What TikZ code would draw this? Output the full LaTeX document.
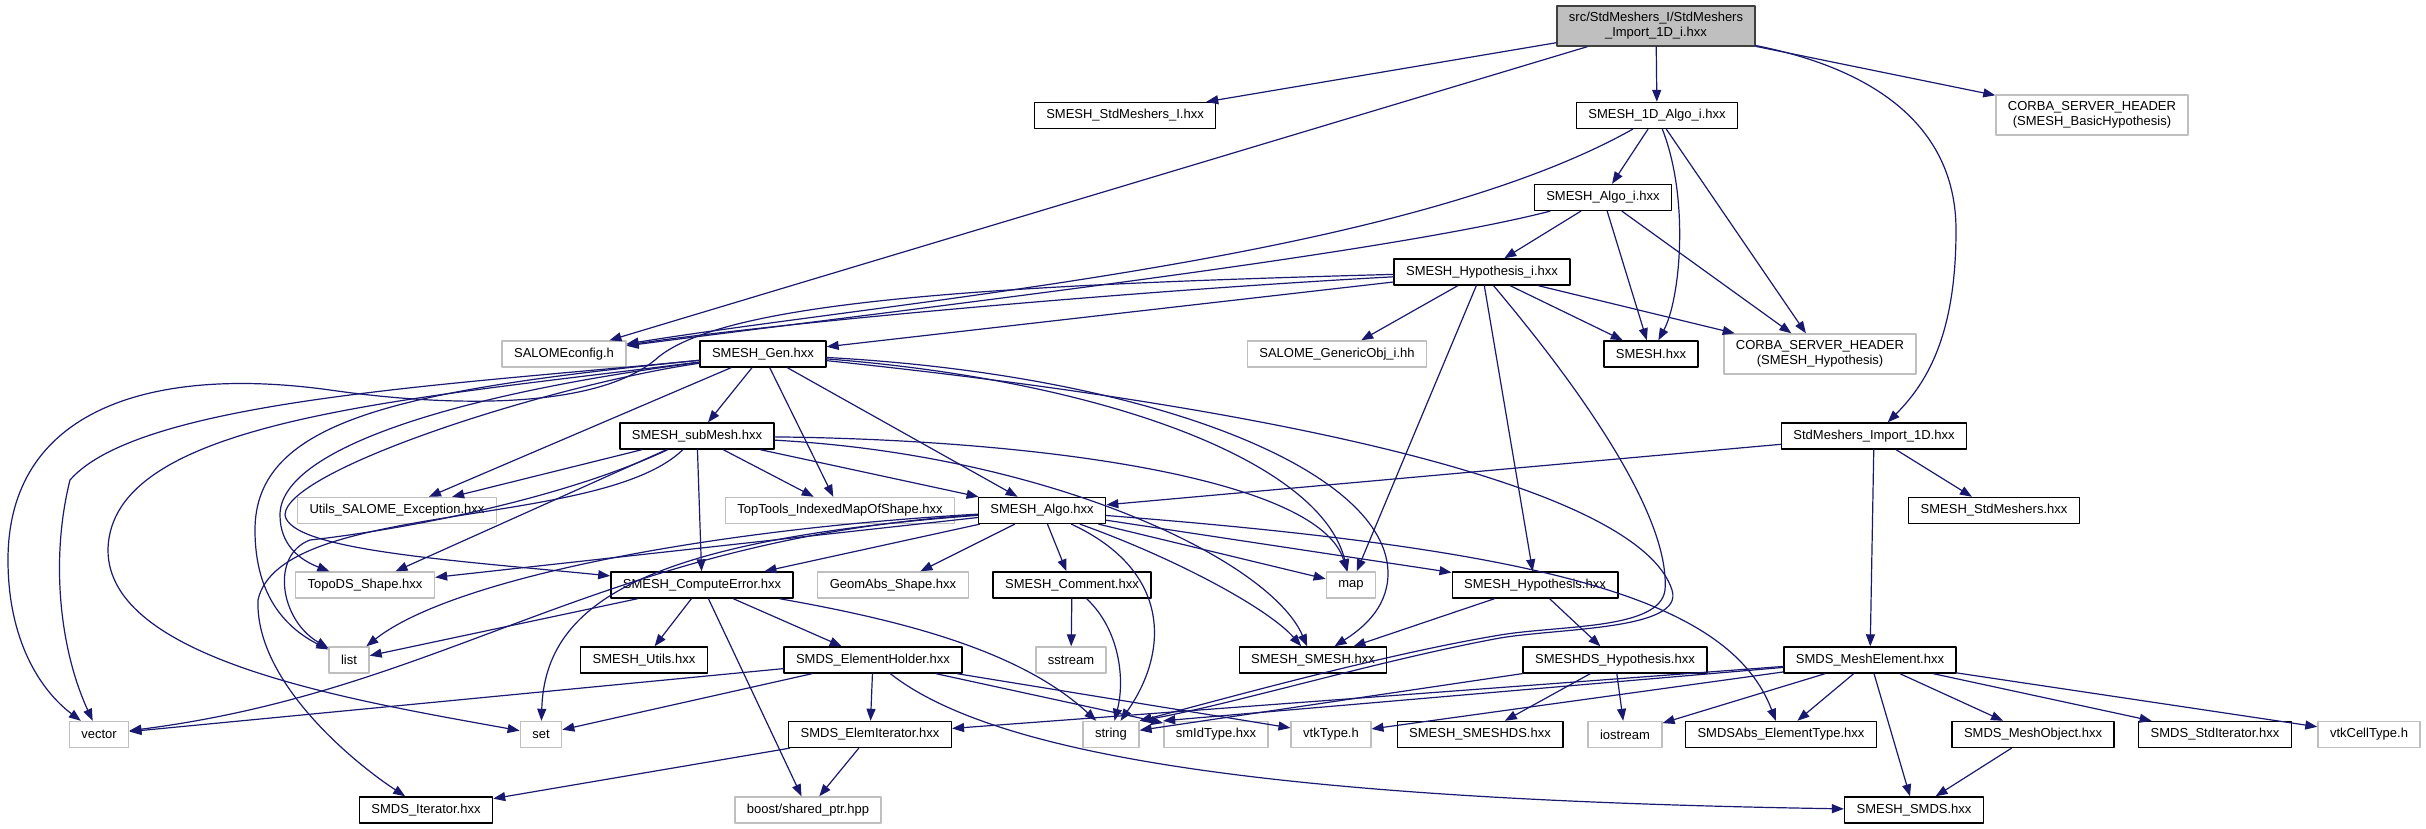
\documentclass[tikz,border=0pt]{standalone}
\usepackage{fontspec}
\setmainfont{Liberation Sans}
\usepackage{xcolor}
\usetikzlibrary{arrows.meta}
\definecolor{edgeblue}{HTML}{191970}
\definecolor{boxgray}{HTML}{BFBFBF}
\definecolor{rootgray}{HTML}{404040}
\tikzset{
  every picture/.style={font=\fontsize{13pt}{15pt}\selectfont, line join=round, line cap=round, >={Triangle[length=12pt,width=9pt]}},
  hdr/.style={draw=black, line width=1.4pt, fill=white, minimum height=26pt, inner xsep=12pt, inner ysep=2pt, align=center},
  sys/.style={hdr, draw=boxgray},
  rootbox/.style={hdr, fill=boxgray, draw=rootgray},
  twoline/.style={minimum height=40pt},
  inc/.style={->, draw=edgeblue, line width=1.2pt},
}

\begin{document}
\begin{tikzpicture}[x=1pt,y=-1pt]
\useasboundingbox (0,0) rectangle (2426,828);
% headers, row by row
\node[rootbox,twoline] (R) at (1656,26) {src/StdMeshers\_I/StdMeshers\\\_Import\_1D\_i.hxx};
\node[hdr] (StdI) at (1125,115.5) {SMESH\_StdMeshers\_I.hxx};
\node[hdr] (A1D) at (1657,115.5) {SMESH\_1D\_Algo\_i.hxx};
\node[sys,twoline] (CorbaB) at (2092,115) {CORBA\_SERVER\_HEADER\\(SMESH\_BasicHypothesis)};
\node[hdr] (AlgoI) at (1603,197.5) {SMESH\_Algo\_i.hxx};
\node[hdr] (HypI) at (1482,272) {SMESH\_Hypothesis\_i.hxx};
\node[sys] (Salome) at (564,354) {SALOMEconfig.h};
\node[hdr] (Gen) at (763,354) {SMESH\_Gen.hxx};
\node[sys] (GenObj) at (1337,354) {SALOME\_GenericObj\_i.hh};
\node[hdr] (SmeshH) at (1651,354) {SMESH.hxx};
\node[sys,twoline] (CorbaH) at (1820,354) {CORBA\_SERVER\_HEADER\\(SMESH\_Hypothesis)};
\node[hdr] (SubMesh) at (697,436) {SMESH\_subMesh.hxx};
\node[hdr] (Imp1D) at (1874,436) {StdMeshers\_Import\_1D.hxx};
\node[sys] (UtilsExc) at (397,510.5) {Utils\_SALOME\_Exception.hxx};
\node[sys] (TopTools) at (840,510.5) {TopTools\_IndexedMapOfShape.hxx};
\node[hdr] (Algo) at (1042,510.5) {SMESH\_Algo.hxx};
\node[hdr] (StdMesh) at (1994,510.5) {SMESH\_StdMeshers.hxx};
\node[sys] (TopoDS) at (365,585) {TopoDS\_Shape.hxx};
\node[hdr] (CompErr) at (702,585) {SMESH\_ComputeError.hxx};
\node[sys] (GeomAbs) at (893,585) {GeomAbs\_Shape.hxx};
\node[hdr] (Comment) at (1072,585) {SMESH\_Comment.hxx};
\node[sys] (Map) at (1351,585) {map};
\node[hdr] (Hyp) at (1535,585) {SMESH\_Hypothesis.hxx};
\node[sys] (List) at (349,660) {list};
\node[hdr] (Utils) at (644,660) {SMESH\_Utils.hxx};
\node[hdr] (ElemHold) at (873,660) {SMDS\_ElementHolder.hxx};
\node[sys] (Sstream) at (1071,660) {sstream};
\node[hdr] (MeshH) at (1313,660) {SMESH\_SMESH.hxx};
\node[hdr] (DSHyp) at (1615,660) {SMESHDS\_Hypothesis.hxx};
\node[hdr] (MeshElem) at (1870,660) {SMDS\_MeshElement.hxx};
\node[sys] (Vector) at (99,734.5) {vector};
\node[sys] (Set) at (541,734.5) {set};
\node[hdr] (ElemIter) at (870,734.5) {SMDS\_ElemIterator.hxx};
\node[sys] (String) at (1111,734.5) {string};
\node[sys] (SmIdType) at (1216,734.5) {smIdType.hxx};
\node[sys] (VtkType) at (1331,734.5) {vtkType.h};
\node[hdr] (MeshDS) at (1480,734.5) {SMESH\_SMESHDS.hxx};
\node[sys] (Iostream) at (1625,734.5) {iostream};
\node[hdr] (ElemType) at (1781,734.5) {SMDSAbs\_ElementType.hxx};
\node[hdr] (MeshObj) at (2033,734.5) {SMDS\_MeshObject.hxx};
\node[hdr] (StdIter) at (2215,734.5) {SMDS\_StdIterator.hxx};
\node[sys] (VtkCell) at (2369,734.5) {vtkCellType.h};
\node[hdr] (Iter) at (426,810) {SMDS\_Iterator.hxx};
\node[sys] (Boost) at (808,810) {boost/shared\_ptr.hpp};
\node[hdr] (MeshSMDS) at (1914,810) {SMESH\_SMDS.hxx};

% includes of the root file
\draw[inc] (R) -- (StdI);
\draw[inc] (R) -- (A1D);
\draw[inc] (R) -- (CorbaB);
\draw[inc] (R) -- (Salome);
\draw[inc] (R) .. controls (1880,70) and (1956,130) .. (1956,230) .. controls (1956,330) and (1930,380) .. (Imp1D);

% corba side
\draw[inc] (A1D) -- (AlgoI);
\draw[inc] (A1D) .. controls (1400,260) and (900,300) .. (Salome);
\draw[inc] (A1D) .. controls (1690,200) and (1680,300) .. (SmeshH);
\draw[inc] (A1D) -- (CorbaH);
\draw[inc] (AlgoI) -- (HypI);
\draw[inc] (AlgoI) .. controls (1380,255) and (900,310) .. (Salome);
\draw[inc] (AlgoI) -- (SmeshH);
\draw[inc] (AlgoI) -- (CorbaH);
\draw[inc] (HypI) .. controls (1150,290) and (800,320) .. (Salome);
\draw[inc] (HypI) -- (Gen);
\draw[inc] (HypI) -- (GenObj);
\draw[inc] (HypI) -- (SmeshH);
\draw[inc] (HypI) -- (CorbaH);
\draw[inc] (HypI) -- (Map);
\draw[inc] (HypI) -- (Hyp);
\draw[inc] (HypI) .. controls (1590,400) and (1670,520) .. (1665,590) .. controls (1660,630) and (1560,625) .. (1500,635) .. controls (1380,655) and (1220,700) .. (String.north east);
\draw[inc] (HypI) .. controls (1000,285) and (720,300) .. (655,360) .. controls (600,405) and (470,410) .. (330,390) .. controls (150,365) and (8,410) .. (8,560) .. controls (8,640) and (40,690) .. (Vector);

% SMESH_Gen.hxx
\draw[inc] (Gen) -- (SubMesh);
\draw[inc] (Gen) -- (UtilsExc);
\draw[inc] (Gen) -- (TopTools);
\draw[inc] (Gen) -- (Algo);
\draw[inc] (Gen) .. controls (1100,380) and (1320,460) .. (Map);
\draw[inc] (Gen) .. controls (1150,375) and (1390,470) .. (1388,575) .. controls (1387,610) and (1360,630) .. (MeshH);
\draw[inc] (Gen) .. controls (1300,410) and (1640,490) .. (1672,590) .. controls (1685,630) and (1560,628) .. (1500,638) .. controls (1380,660) and (1230,705) .. (String.north east);
\draw[inc] (Gen) .. controls (450,395) and (280,450) .. (280,515) .. controls (280,545) and (300,560) .. (TopoDS);
\draw[inc] (Gen) .. controls (400,390) and (255,420) .. (255,530) .. controls (255,600) and (290,630) .. (List);
\draw[inc] (Gen) .. controls (450,385) and (140,400) .. (70,480) .. controls (50,560) and (60,650) .. (Vector);
\draw[inc] (Gen) .. controls (400,400) and (110,420) .. (108,550) .. controls (108,660) and (350,700) .. (Set);
\draw[inc] (Gen) .. controls (550,385) and (285,470) .. (285,515) .. controls (290,550) and (450,560) .. (CompErr);

% SMESH_subMesh.hxx
\draw[inc] (SubMesh) -- (UtilsExc);
\draw[inc] (SubMesh) -- (TopTools);
\draw[inc] (SubMesh) -- (Algo);
\draw[inc] (SubMesh) -- (CompErr);
\draw[inc] (SubMesh) -- (TopoDS);
\draw[inc] (SubMesh) .. controls (560,500) and (400,530) .. (310,540) .. controls (270,555) and (280,620) .. (List);
\draw[inc] (SubMesh) .. controls (600,530) and (280,500) .. (258,600) .. controls (255,680) and (350,760) .. (Iter);
\draw[inc] (SubMesh) .. controls (1050,440) and (1320,480) .. (Map);
\draw[inc] (SubMesh) .. controls (1050,455) and (1270,560) .. (MeshH);

\draw[inc] (Imp1D) -- (Algo);
\draw[inc] (Imp1D) -- (StdMesh);
\draw[inc] (Imp1D) -- (MeshElem);

% SMESH_Algo.hxx
\draw[inc] (Algo) -- (TopoDS);
\draw[inc] (Algo) -- (CompErr);
\draw[inc] (Algo) -- (GeomAbs);
\draw[inc] (Algo) -- (Comment);
\draw[inc] (Algo) -- (Map);
\draw[inc] (Algo) -- (Hyp);
\draw[inc] (Algo) .. controls (1180,560) and (1270,610) .. (MeshH);
\draw[inc] (Algo) .. controls (1170,570) and (1170,650) .. (String);
\draw[inc] (Algo) .. controls (700,530) and (450,580) .. (List);
\draw[inc] (Algo) .. controls (600,540) and (450,690) .. (Vector);
\draw[inc] (Algo) .. controls (650,540) and (545,600) .. (Set);
\draw[inc] (Algo) .. controls (1550,550) and (1730,600) .. (ElemType);

\draw[inc] (CompErr) -- (List);
\draw[inc] (CompErr) -- (Utils);
\draw[inc] (CompErr) -- (ElemHold);
\draw[inc] (CompErr) -- (Boost);
\draw[inc] (CompErr) .. controls (900,620) and (1020,650) .. (String);
\draw[inc] (Comment) -- (Sstream);
\draw[inc] (Comment) .. controls (1120,630) and (1125,680) .. (String);
\draw[inc] (Hyp) -- (MeshH);
\draw[inc] (Hyp) -- (DSHyp);
\draw[inc] (DSHyp) -- (String);
\draw[inc] (DSHyp) -- (MeshDS);
\draw[inc] (DSHyp) -- (Iostream);

% SMDS side
\draw[inc] (ElemHold) -- (Vector);
\draw[inc] (ElemHold) -- (Set);
\draw[inc] (ElemHold) -- (ElemIter);
\draw[inc] (ElemHold) -- (SmIdType);
\draw[inc] (ElemHold) -- (VtkType);
\draw[inc] (ElemHold) .. controls (1000,760) and (1300,800) .. (MeshSMDS);
\draw[inc] (MeshElem) -- (SmIdType.north west);
\draw[inc] (MeshElem) -- (VtkType);
\draw[inc] (MeshElem) -- (ElemIter);
\draw[inc] (MeshElem) -- (Iostream);
\draw[inc] (MeshElem) -- (ElemType);
\draw[inc] (MeshElem) -- (MeshSMDS);
\draw[inc] (MeshElem) -- (MeshObj);
\draw[inc] (MeshElem) -- (StdIter);
\draw[inc] (MeshElem) -- (VtkCell);
\draw[inc] (ElemIter) -- (Iter);
\draw[inc] (ElemIter) -- (Boost);
\draw[inc] (MeshObj) -- (MeshSMDS);
\end{tikzpicture}
\end{document}
